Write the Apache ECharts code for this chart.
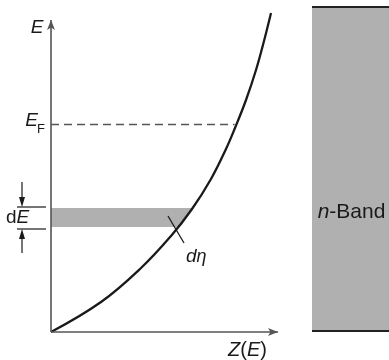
<!DOCTYPE html>
<html>
<head>
<meta charset="utf-8">
<script src="https://cdn.jsdelivr.net/npm/echarts@6/dist/echarts.min.js"></script>
<style>
  html, body { margin: 0; padding: 0; background: #fff; }
  #chart { width: 389px; height: 360px; }
</style>
</head>
<body>
<div id="chart"></div>
<script>
// Energy E (vertical) versus density of states Z(E) (horizontal), schematic units
const curveZ = [0, 50, 90, 120, 141, 160, 175, 184, 195, 205, 213, 220];
const curveE = [0, 30, 64, 96, 123, 153, 183, 204, 232, 262, 291, 319];

const fermiE = 208;          // E_F level
const bandE = [105, 124];    // energy slice dE
const dEtaTick = [[117, 116], [133, 89]]; // short marker crossing the curve
const axisMax = { z: 227, e: 312 };

const FONT = "'Liberation Sans', Arial, Helvetica, sans-serif";
const INK = '#1a1a1a';
const AXIS = '#555';
const GREY = '#b0b0b0';

// Z(E) by linear interpolation along the curve
function zAt(e) {
  for (let i = 1; i < curveE.length; i++) {
    if (e <= curveE[i]) {
      const t = (e - curveE[i - 1]) / (curveE[i] - curveE[i - 1]);
      return curveZ[i - 1] + t * (curveZ[i] - curveZ[i - 1]);
    }
  }
  return curveZ[curveZ.length - 1];
}

const curveData = curveZ.map((z, i) => [z, curveE[i]]);

// polygon of the shaded slice: from the E axis out to the curve
const bandPoly = [[0, bandE[0]], [zAt(bandE[0]), bandE[0]]];
curveE.forEach((e, i) => { if (e > bandE[0] && e < bandE[1]) bandPoly.push([curveZ[i], e]); });
bandPoly.push([zAt(bandE[1]), bandE[1]], [0, bandE[1]]);

const chart = echarts.init(document.getElementById('chart'), null, { renderer: 'canvas' });

const hidden = { show: false };
chart.setOption({
  animation: false,
  backgroundColor: '#fff',
  grid: [
    { left: 51, top: 12, width: 227, height: 320 },
    { left: 312, top: 7, right: 0, bottom: 29 }
  ],
  xAxis: [
    { gridIndex: 0, type: 'value', min: 0, max: 227, axisLine: hidden, axisTick: hidden, axisLabel: hidden, splitLine: hidden },
    { gridIndex: 1, type: 'value', min: 0, max: 1, axisLine: hidden, axisTick: hidden, axisLabel: hidden, splitLine: hidden }
  ],
  yAxis: [
    { gridIndex: 0, type: 'value', min: 0, max: 320, axisLine: hidden, axisTick: hidden, axisLabel: hidden, splitLine: hidden },
    { gridIndex: 1, type: 'value', min: 0, max: 1, axisLine: hidden, axisTick: hidden, axisLabel: hidden, splitLine: hidden }
  ],
  series: [
    {
      // shaded energy slice
      type: 'custom',
      xAxisIndex: 0, yAxisIndex: 0,
      silent: true,
      z: 1,
      data: [0],
      renderItem: function (params, api) {
        return {
          type: 'polygon',
          shape: { points: bandPoly.map(p => api.coord(p)) },
          style: { fill: GREY }
        };
      }
    },
    {
      // axes with arrow heads, Fermi level and the dη marker
      type: 'line',
      xAxisIndex: 0, yAxisIndex: 0,
      data: [],
      silent: true,
      z: 3,
      markLine: {
        silent: true,
        symbol: ['none', 'none'],
        label: { show: false },
        emphasis: { disabled: true },
        data: [
          [{ coord: [0, 0], symbol: 'none', lineStyle: { color: AXIS, width: 1.6, type: 'solid' } },
           { coord: [axisMax.z, 0], symbol: 'arrow', symbolSize: [6, 10] }],
          [{ coord: [0, 0], symbol: 'none', lineStyle: { color: AXIS, width: 1.6, type: 'solid' } },
           { coord: [0, axisMax.e], symbol: 'arrow', symbolSize: [6, 10] }],
          [{ coord: [0, fermiE], lineStyle: { color: AXIS, width: 1.3, type: [8, 5] } },
           { coord: [zAt(fermiE) - 2, fermiE] }],
          [{ coord: dEtaTick[0], lineStyle: { color: INK, width: 1.3, type: 'solid' } },
           { coord: dEtaTick[1] }]
        ]
      }
    },
    {
      // E(Z) curve
      type: 'line',
      xAxisIndex: 0, yAxisIndex: 0,
      data: curveData,
      smooth: 0.4,
      showSymbol: false,
      silent: true,
      z: 4,
      lineStyle: { color: INK, width: 2.3 }
    },
    {
      // the n-band block
      type: 'line',
      xAxisIndex: 1, yAxisIndex: 1,
      data: [],
      silent: true,
      markArea: {
        silent: true,
        itemStyle: { color: GREY },
        label: {
          show: true,
          position: 'inside',
          offset: [1, 43],
          formatter: '{i|n}{r|-Band}',
          rich: {
            i: { fontFamily: FONT, fontStyle: 'italic', fontSize: 21, color: INK },
            r: { fontFamily: FONT, fontSize: 21, color: INK }
          }
        },
        data: [[{ coord: [0, 0] }, { coord: [1, 1] }]]
      },
      markLine: {
        silent: true,
        symbol: ['none', 'none'],
        label: { show: false },
        lineStyle: { color: '#222', width: 2, type: 'solid' },
        data: [
          [{ coord: [0, 0] }, { coord: [1, 0] }],
          [{ coord: [0, 1] }, { coord: [1, 1] }]
        ]
      }
    }
  ]
});

// text and the dE bracket, placed from the data scale
const px = p => chart.convertToPixel({ gridIndex: 0 }, p);
const yF = px([0, fermiE])[1];
const yLo = px([0, bandE[0]])[1];
const yHi = px([0, bandE[1]])[1];
const x0 = px([0, 0])[0];

function arrow(x, yTip, dir) {
  // dir = 1 points down, -1 points up
  return {
    type: 'polygon',
    shape: { points: [[x, yTip], [x - 3, yTip - dir * 10], [x + 3, yTip - dir * 10]] },
    style: { fill: INK }
  };
}

const tx = (x, y, text, style) => ({
  type: 'text', x: x, y: y,
  style: Object.assign({ text: text, fontFamily: FONT, fill: INK, verticalAlign: 'middle' }, style)
});

chart.setOption({
  graphic: [
    tx(37, 28, 'E', { fontSize: 19, fontStyle: 'italic', align: 'center' }),
    tx(38, yF - 3, 'E', { fontSize: 19, fontStyle: 'italic', align: 'right' }),
    tx(37, yF + 5, 'F', { fontSize: 13, align: 'left' }),
    tx(6, (yLo + yHi) / 2, '{d|d}{e|E}', {
      align: 'left',
      rich: {
        d: { fontFamily: FONT, fontSize: 19, color: INK },
        e: { fontFamily: FONT, fontSize: 19, fontStyle: 'italic', color: INK }
      }
    }),
    tx(186, 257, '{d|d}{n|η}', {
      align: 'left',
      rich: {
        d: { fontFamily: FONT, fontSize: 19, fontStyle: 'italic', color: INK },
        n: { fontFamily: FONT, fontSize: 18, fontStyle: 'italic', color: INK }
      }
    }),
    tx(228, 350, '{i|Z}{r|(}{i|E}{r|)}', {
      align: 'left',
      rich: {
        i: { fontFamily: FONT, fontSize: 20, fontStyle: 'italic', color: INK },
        r: { fontFamily: FONT, fontSize: 20, color: INK }
      }
    }),
    { type: 'line', shape: { x1: 17, y1: yHi - 1, x2: x0 - 5, y2: yHi - 1 }, style: { stroke: INK, lineWidth: 1.2 } },
    { type: 'line', shape: { x1: 17, y1: yLo + 2, x2: x0 - 5, y2: yLo + 2 }, style: { stroke: INK, lineWidth: 1.2 } },
    { type: 'line', shape: { x1: 22, y1: yHi - 26, x2: 22, y2: yHi - 6 }, style: { stroke: INK, lineWidth: 1.2 } },
    arrow(22, yHi - 1, 1),
    { type: 'line', shape: { x1: 22, y1: yLo + 7, x2: 22, y2: yLo + 26 }, style: { stroke: INK, lineWidth: 1.2 } },
    arrow(22, yLo + 2, -1)
  ]
});
</script>
</body>
</html>
